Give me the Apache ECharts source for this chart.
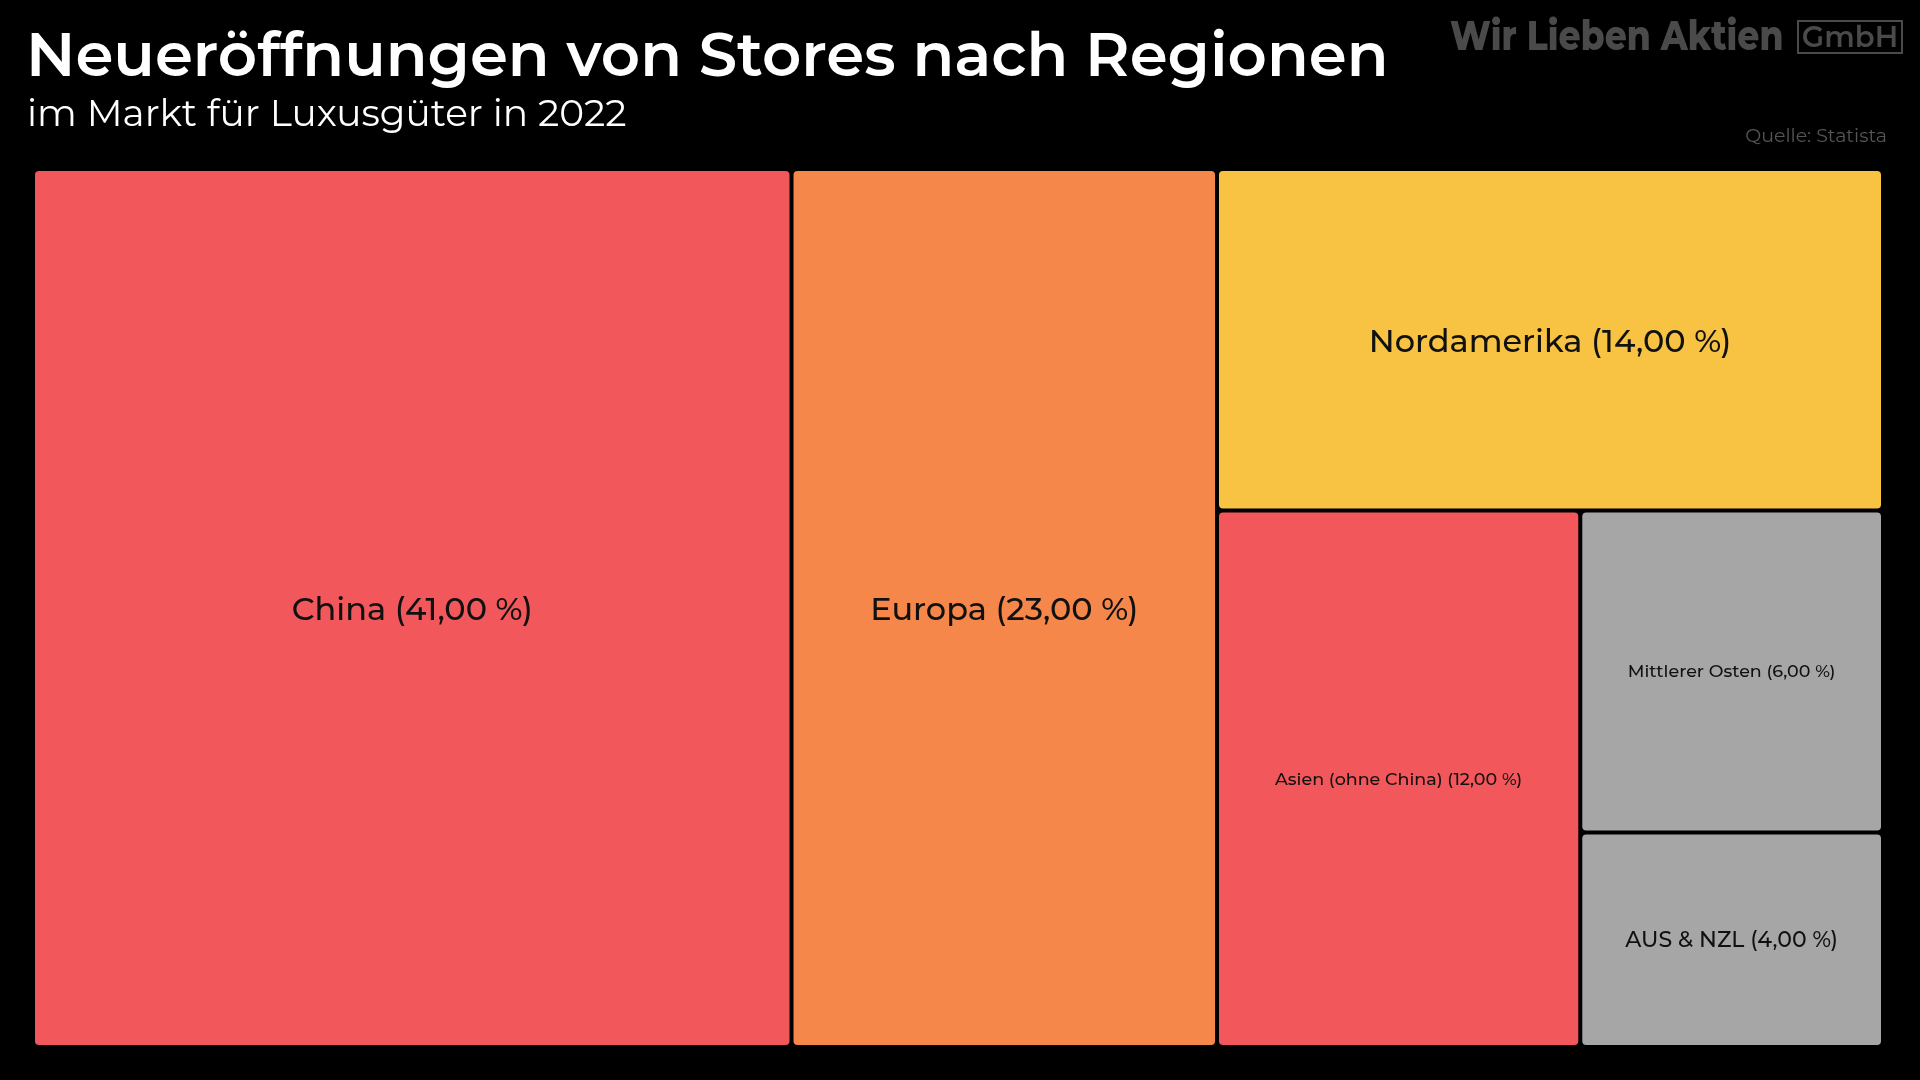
<!DOCTYPE html>
<html>
<head>
<meta charset="utf-8">
<script src="https://cdn.jsdelivr.net/npm/echarts@6/dist/echarts.min.js"></script>
<style>
html,body{margin:0;padding:0;background:#000;}
#chart{width:1920px;height:1080px;}
</style>
</head>
<body>
<div id="chart"></div>
<script>
// ---- data ----
const regions = ['China', 'Europa', 'Nordamerika', 'Asien (ohne China)', 'Mittlerer Osten', 'AUS & NZL'];
const shares = [41, 23, 14, 12, 6, 4];

const titleText = 'Neueröffnungen von Stores nach Regionen';
const subtitleText = 'im Markt für Luxusgüter in 2022';
const sourceText = 'Quelle: Statista';
const brandText = 'Wir Lieben Aktien';
const brandBoxText = 'GmbH';

// ---- styles (kept apart from data) ----
const colorByRegion = {
  'China': '#F2575B',
  'Europa': '#F5874A',
  'Nordamerika': '#F8C343',
  'Asien (ohne China)': '#F2575B',
  'Mittlerer Osten': '#A6A6A6',
  'AUS & NZL': '#A6A6A6'
};
const labelSizeByRegion = {
  'China': 32, 'Europa': 32, 'Nordamerika': 32,
  'Asien (ohne China)': 17.5, 'Mittlerer Osten': 17.5, 'AUS & NZL': 22
};
const labelShiftByRegion = {
  'China': 3, 'Europa': 3, 'Nordamerika': 3,
  'Asien (ohne China)': 1, 'Mittlerer Osten': 0, 'AUS & NZL': 1
};

const FONT = 'Montserrat, Inter, "Noto Sans", sans-serif';

const treeData = regions.map((name, i) => ({
  name: name,
  value: shares[i],
  itemStyle: { color: colorByRegion[name] },
  label: { fontSize: labelSizeByRegion[name], offset: [0, labelShiftByRegion[name]] }
}));

const chart = echarts.init(document.getElementById('chart'), null, { renderer: 'canvas' });
chart.setOption({
  backgroundColor: '#000000',
  animation: false,
  title: [
    {
      text: titleText, left: 21, top: 23,
      textStyle: { color: '#ffffff', fontSize: 61, fontWeight: 600, fontFamily: FONT }
    },
    {
      text: subtitleText, left: 22, top: 91,
      textStyle: { color: '#ffffff', fontSize: 37.5, fontWeight: 400, fontFamily: FONT }
    }
  ],
  graphic: [
    {
      type: 'text', x: 1450, y: 17, scaleX: 0.84, originX: 0, originY: 0,
      style: { text: brandText, fill: '#4a4a4a', font: '800 41px ' + FONT, align: 'left', verticalAlign: 'top' }
    },
    {
      type: 'rect', x: 1798, y: 21,
      shape: { width: 104, height: 32 },
      style: { fill: 'none', stroke: '#4a4a4a', lineWidth: 2 }
    },
    {
      type: 'text', x: 1850, y: 38,
      style: { text: brandBoxText, fill: '#4a4a4a', font: '600 29px ' + FONT, align: 'center', verticalAlign: 'middle' }
    },
    {
      type: 'text', right: 33, top: 127,
      style: { text: sourceText, fill: '#555555', font: '400 19px ' + FONT }
    }
  ],
  series: [{
    type: 'treemap',
    left: 35, top: 171, width: 1846, height: 874,
    squareRatio: 0.9,
    roam: false,
    nodeClick: false,
    breadcrumb: { show: false },
    silent: true,
    label: {
      show: true,
      position: 'inside',
      align: 'center',
      verticalAlign: 'middle',
      color: '#111111',
      fontWeight: 500,
      fontFamily: FONT,
      formatter: p => p.name + ' (' + p.value.toFixed(2).replace('.', ',') + ' %)'
    },
    levels: [
      { itemStyle: { borderWidth: 0, gapWidth: 4, borderColor: '#000' } },
      { itemStyle: { borderWidth: 0, borderRadius: 4, borderColor: '#000' } }
    ],
    data: treeData
  }]
});
</script>
</body>
</html>
